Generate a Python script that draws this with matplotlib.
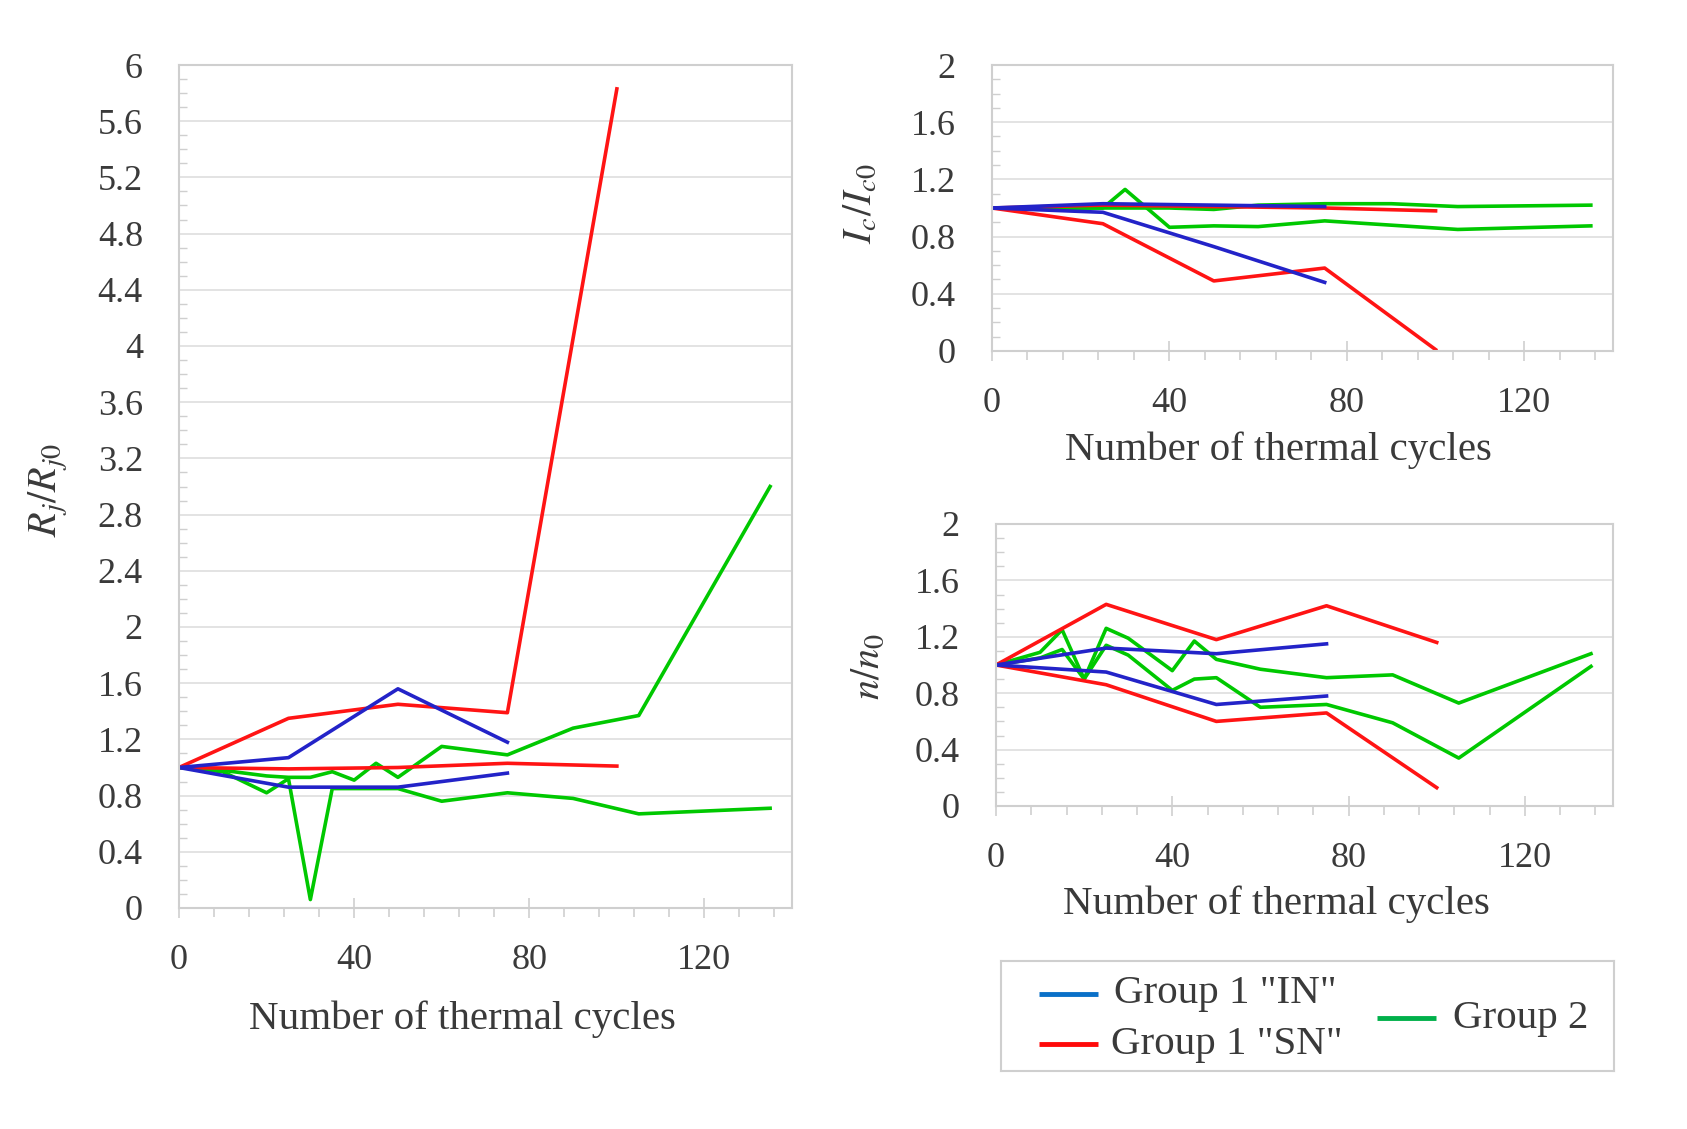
import matplotlib
matplotlib.use("Agg")
import matplotlib.pyplot as plt
from matplotlib.ticker import MultipleLocator, FuncFormatter

plt.rcParams['font.family'] = ['Liberation Serif', 'DejaVu Serif']
plt.rcParams['mathtext.fontset'] = 'stix'

# ---- R_j / R_j0 (left panel) ----
RJ_X_G1 = [0, 25, 50, 75]
RJ_IN_A = [1.0, 1.07, 1.56, 1.18]
RJ_IN_B = [1.0, 0.86, 0.86, 0.96]
RJ_X_SN = [0, 25, 50, 75, 100]
RJ_SN_A = [1.0, 1.35, 1.45, 1.39, 5.83]
RJ_SN_B = [1.0, 0.99, 1.0, 1.03, 1.01]
RJ_X_G2 = [0, 10, 20, 25, 30, 35, 40, 45, 50, 60, 75, 90, 105, 135]
RJ_G2_A = [1.0, 0.98, 0.94, 0.93, 0.93, 0.97, 0.91, 1.03, 0.93, 1.15, 1.09, 1.28, 1.37, 3.0]
RJ_G2_B = [1.0, 0.97, 0.82, 0.92, 0.06, 0.85, 0.85, 0.85, 0.85, 0.76, 0.82, 0.78, 0.67, 0.71]

# ---- I_c / I_c0 (top right) ----
IC_X_G1 = [0, 25, 50, 75]
IC_IN_A = [1.0, 1.03, 1.02, 1.01]
IC_IN_B = [1.0, 0.97, 0.73, 0.48]
IC_X_SN = [0, 25, 50, 75, 100]
IC_SN_A = [1.0, 1.02, 1.01, 1.0, 0.98]
IC_SN_B = [1.0, 0.89, 0.49, 0.58, 0.01]
IC_X_G2 = [0, 25, 30, 40, 50, 60, 75, 90, 105, 135]
IC_G2_A = [1.0, 1.0, 1.0, 1.0, 0.99, 1.02, 1.03, 1.03, 1.01, 1.02]
IC_G2_B = [1.0, 1.0, 1.13, 0.865, 0.875, 0.87, 0.91, 0.88, 0.85, 0.875]

# ---- n / n0 (bottom right) ----
N_X_G1 = [0, 25, 50, 75]
N_IN_A = [1.0, 1.12, 1.08, 1.15]
N_IN_B = [1.0, 0.95, 0.72, 0.78]
N_X_SN = [0, 25, 50, 75, 100]
N_SN_A = [1.0, 1.43, 1.18, 1.42, 1.16]
N_SN_B = [1.0, 0.86, 0.60, 0.66, 0.13]
N_X_G2 = [0, 10, 15, 20, 25, 30, 40, 45, 50, 60, 75, 90, 105, 135]
N_G2_A = [1.0, 1.09, 1.25, 0.90, 1.26, 1.19, 0.96, 1.17, 1.04, 0.97, 0.91, 0.93, 0.73, 1.08]
N_G2_B = [1.0, 1.05, 1.11, 0.90, 1.14, 1.07, 0.82, 0.90, 0.91, 0.70, 0.72, 0.59, 0.34, 0.99]

LEGEND_LABELS = ['Group 1 "IN"', 'Group 1 "SN"', 'Group 2']

BLUE, RED, GREEN = '#2323c8', '#ff1414', '#00c800'
LEG_BLUE, LEG_RED, LEG_GREEN = '#0a70c8', '#ff0a0a', '#00b04a'
GRID = '#e0e0e0'
SPINE = '#cfcfcf'
TXT = '#3a3a3a'
XLABEL = 'Number of thermal cycles'

W, H = 1687, 1129


def box(left, top, right, bottom):
    # pixel box -> figure fraction
    return [left / W, 1 - bottom / H, (right - left) / W, (bottom - top) / H]


def setup(ax, ymax, ylabel, xlab_xy, ylab_xy):
    ax.set_xlim(0, 140)
    ax.set_ylim(0, ymax)
    ax.xaxis.set_major_locator(MultipleLocator(40))
    ax.xaxis.set_minor_locator(MultipleLocator(8))
    ax.yaxis.set_major_locator(MultipleLocator(0.4))
    ax.yaxis.set_minor_locator(MultipleLocator(0.1))
    ax.yaxis.set_major_formatter(FuncFormatter(lambda v, p: '%g' % round(v, 1)))
    ax.grid(axis='y', color=GRID, lw=1.3)
    ax.set_axisbelow(True)
    for s in ax.spines.values():
        s.set_color(SPINE)
        s.set_linewidth(1.5)
    ax.tick_params(axis='x', which='major', direction='inout', length=14, width=1.2,
                   color=SPINE, pad=19, labelsize=26, labelcolor=TXT)
    ax.tick_params(axis='x', which='minor', direction='out', length=6.5, width=1.2, color=SPINE)
    ax.tick_params(axis='y', which='major', length=0, pad=26, labelsize=26, labelcolor=TXT)
    ax.tick_params(axis='y', which='minor', direction='in', length=6, width=1.0, color=SPINE)

    ax.set_xlabel(XLABEL, fontsize=29.5, color=TXT)
    ax.xaxis.label.set_va('center')
    ax.xaxis.set_label_coords(*xlab_xy)
    ax.set_ylabel(ylabel, fontsize=29, color=TXT)
    ax.yaxis.label.set_va('center')
    ax.yaxis.set_label_coords(*ylab_xy)


def draw(ax, xg1, in_a, in_b, xsn, sn_a, sn_b, xg2, g2_a, g2_b):
    lw = 2.6
    ax.plot(xg2, g2_a, color=GREEN, lw=lw)
    ax.plot(xg2, g2_b, color=GREEN, lw=lw)
    ax.plot(xsn, sn_a, color=RED, lw=lw)
    ax.plot(xsn, sn_b, color=RED, lw=lw)
    ax.plot(xg1, in_a, color=BLUE, lw=lw)
    ax.plot(xg1, in_b, color=BLUE, lw=lw)


fig = plt.figure(figsize=(W / 100, H / 100), dpi=100)

ax_r = fig.add_axes(box(179, 65, 792, 908))
draw(ax_r, RJ_X_G1, RJ_IN_A, RJ_IN_B, RJ_X_SN, RJ_SN_A, RJ_SN_B, RJ_X_G2, RJ_G2_A, RJ_G2_B)
setup(ax_r, 6, r'$R_j/R_{j0}$', (0.463, -0.132), (-0.214, 0.496))

ax_i = fig.add_axes(box(992, 65, 1613, 351))
draw(ax_i, IC_X_G1, IC_IN_A, IC_IN_B, IC_X_SN, IC_SN_A, IC_SN_B, IC_X_G2, IC_G2_A, IC_G2_B)
setup(ax_i, 2, r'$I_c/I_{c0}$', (0.461, -0.346), (-0.211, 0.514))

ax_n = fig.add_axes(box(996, 524, 1613, 806))
draw(ax_n, N_X_G1, N_IN_A, N_IN_B, N_X_SN, N_SN_A, N_SN_B, N_X_G2, N_G2_A, N_G2_B)
setup(ax_n, 2, r'$n/n_0$', (0.454, -0.348), (-0.206, 0.493))

# legend drawn by hand: two stacked entries on the left, Group 2 centred on the right
lax = fig.add_axes(box(1001, 961, 1614, 1071))
lax.set_xlim(0, 1)
lax.set_ylim(0, 1)
lax.set_xticks([])
lax.set_yticks([])
for s in lax.spines.values():
    s.set_color(SPINE)
    s.set_linewidth(1.5)
for (x0, x1, y, tx), c, lab in zip([(0.062, 0.158, 0.70, 0.184), (0.062, 0.158, 0.245, 0.180),
                                    (0.613, 0.710, 0.48, 0.737)],
                                   [LEG_BLUE, LEG_RED, LEG_GREEN], LEGEND_LABELS):
    lax.plot([x0, x1], [y, y], color=c, lw=3.5, solid_capstyle='butt')
    lax.text(tx, y, lab, fontsize=29.5, color=TXT, va='center', ha='left')

fig.savefig('out.png', dpi=100)
